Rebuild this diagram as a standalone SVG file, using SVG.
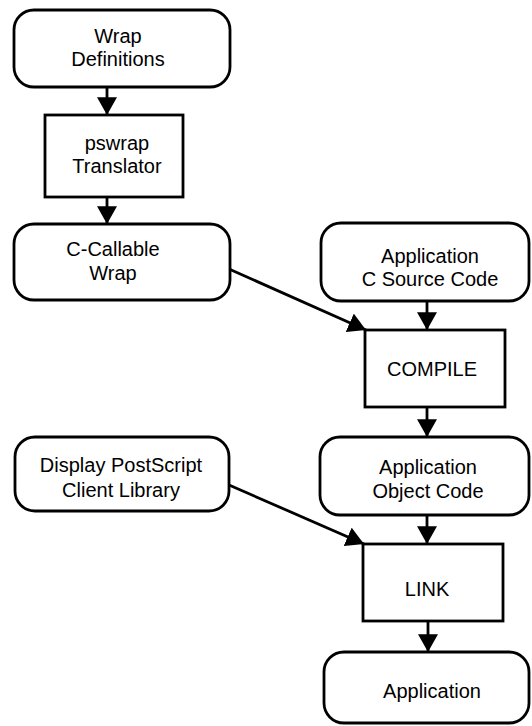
<svg xmlns="http://www.w3.org/2000/svg" width="532" height="726" viewBox="0 0 532 726">
<style>
.box{fill:#fff;stroke:#000;stroke-width:2.8}
.t{font-family:"Liberation Sans",Arial,sans-serif;font-size:20px;text-anchor:middle;fill:#000}
.c{fill:none;stroke:#000;stroke-width:2.8}
</style>
<defs>
<marker id="ah" markerUnits="userSpaceOnUse" markerWidth="18" markerHeight="20" viewBox="0 0 16 18" refX="16" refY="9" orient="auto">
<path d="M0,0 L16,9 L0,18 Z" fill="#000"/>
</marker>
</defs>
<rect width="532" height="726" fill="#fff"/>
<g id="connectors">
<line class="c" x1="107" y1="87" x2="107" y2="115" marker-end="url(#ah)"/>
<line class="c" x1="107" y1="197" x2="107" y2="224" marker-end="url(#ah)"/>
<line class="c" x1="427" y1="301" x2="427" y2="330" marker-end="url(#ah)"/>
<line class="c" x1="427" y1="407" x2="427" y2="437" marker-end="url(#ah)"/>
<line class="c" x1="427" y1="515" x2="427" y2="544" marker-end="url(#ah)"/>
<line class="c" x1="428" y1="621" x2="428" y2="652" marker-end="url(#ah)"/>
<line class="c" x1="229" y1="269" x2="366" y2="330" marker-end="url(#ah)"/>
<line class="c" x1="229" y1="485" x2="364" y2="544" marker-end="url(#ah)"/>
</g>
<g id="wrap-definitions">
<rect class="box" x="14" y="10" width="216" height="77" rx="20"/>
<text class="t" x="118" y="43">Wrap</text>
<text class="t" x="118" y="66">Definitions</text>
</g>
<g id="pswrap-translator">
<rect class="box" x="45" y="115" width="138" height="82"/>
<text class="t" x="117" y="150">pswrap</text>
<text class="t" x="117" y="173">Translator</text>
</g>
<g id="c-callable-wrap">
<rect class="box" x="14" y="224" width="216" height="76" rx="20"/>
<text class="t" x="113" y="256">C-Callable</text>
<text class="t" x="113" y="280">Wrap</text>
</g>
<g id="app-c-source">
<rect class="box" x="321" y="223" width="208" height="78" rx="20"/>
<text class="t" x="430" y="263">Application</text>
<text class="t" x="430" y="286">C Source Code</text>
</g>
<g id="compile">
<rect class="box" x="365" y="330" width="140" height="77"/>
<text class="t" x="432" y="376">COMPILE</text>
</g>
<g id="display-postscript">
<rect class="box" x="15" y="437" width="214" height="74" rx="20"/>
<text class="t" x="121" y="472">Display PostScript</text>
<text class="t" x="121" y="497">Client Library</text>
</g>
<g id="app-object-code">
<rect class="box" x="320" y="437" width="209" height="78" rx="20"/>
<text class="t" x="428" y="474">Application</text>
<text class="t" x="428" y="498">Object Code</text>
</g>
<g id="link">
<rect class="box" x="363" y="544" width="140" height="77"/>
<text class="t" x="427" y="596">LINK</text>
</g>
<g id="application">
<rect class="box" x="324" y="652" width="205" height="71" rx="20"/>
<text class="t" x="432" y="698">Application</text>
</g>
</svg>
